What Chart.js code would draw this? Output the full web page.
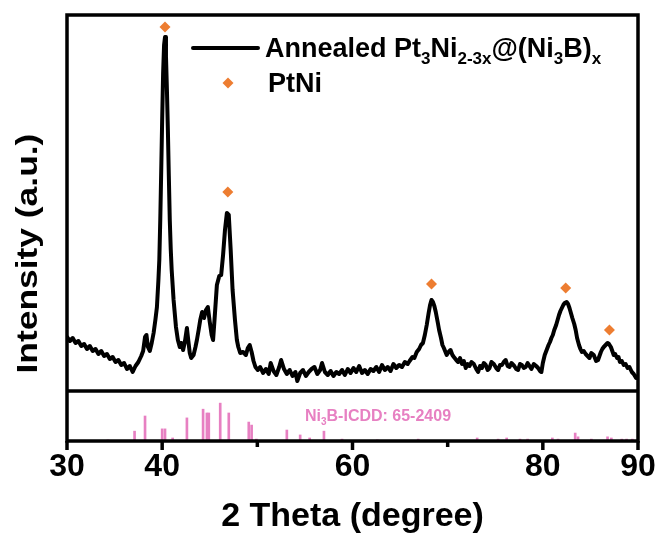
<!DOCTYPE html>
<html>
<head>
<meta charset="utf-8">
<title>XRD - Annealed Pt3Ni2-3x@(Ni3B)x</title>
<script src="https://cdn.jsdelivr.net/npm/chart.js@4/dist/chart.umd.min.js"></script>
<style>
  html, body { margin: 0; padding: 0; background: #fff; }
</style>
</head>
<body>
<canvas id="xrd" width="660" height="535"></canvas>
<script>
// measured pattern (2θ in degree, intensity in a.u.)
var twoTheta = [
  30.0, 30.3, 30.6, 30.9, 31.2, 31.5, 31.8, 32.1, 32.4, 32.7,
  33.0, 33.3, 33.6, 33.9, 34.2, 34.5, 34.8, 35.1, 35.4, 35.7,
  36.0, 36.3, 36.6, 36.9, 37.2, 37.5, 37.8, 38.0, 38.2, 38.35,
  38.5, 38.7, 38.9, 39.1, 39.3, 39.45, 39.6, 39.7, 39.8, 39.9,
  40.0, 40.1, 40.2, 40.3, 40.4, 40.5, 40.6, 40.7, 40.8, 40.9,
  41.0, 41.2, 41.45, 41.65, 41.85, 42.0, 42.2, 42.4, 42.6, 42.75,
  42.9, 43.05, 43.3, 43.5, 43.65, 43.85, 44.0, 44.2, 44.4, 44.6,
  44.8, 45.0, 45.2, 45.35, 45.5, 45.75, 46.0, 46.2, 46.4, 46.6,
  46.8, 47.0, 47.2, 47.4, 47.65, 47.85, 48.0, 48.2, 48.5, 48.8,
  49.0, 49.2, 49.4, 49.6, 49.8, 50.05, 50.3, 50.6, 50.9, 51.2,
  51.4, 51.7, 52.0, 52.3, 52.5, 52.8, 53.1, 53.4, 53.7, 54.0,
  54.2, 54.5, 54.8, 55.1, 55.4, 55.7, 56.0, 56.3, 56.6, 56.8,
  57.1, 57.4, 57.7, 58.0, 58.3, 58.6, 58.9, 59.2, 59.5, 59.8,
  60.1, 60.4, 60.7, 61.0, 61.3, 61.6, 61.9, 62.2, 62.5, 62.8,
  63.1, 63.4, 63.7, 64.0, 64.3, 64.6, 64.9, 65.2, 65.5, 65.8,
  66.0, 66.3, 66.5, 66.75, 67.0, 67.2, 67.4, 67.6, 67.8, 68.0,
  68.15, 68.3, 68.45, 68.6, 68.75, 68.95, 69.1, 69.3, 69.45, 69.6,
  69.9, 70.1, 70.3, 70.5, 70.65, 70.9, 71.1, 71.3, 71.5, 71.7,
  71.9, 72.1, 72.3, 72.5, 72.75, 73.0, 73.2, 73.4, 73.6, 73.8,
  74.0, 74.2, 74.4, 74.6, 74.85, 75.1, 75.3, 75.5, 75.7, 75.9,
  76.1, 76.3, 76.5, 76.7, 77.0, 77.2, 77.4, 77.6, 77.8, 78.0,
  78.2, 78.4, 78.6, 78.8, 79.05, 79.3, 79.5, 79.7, 79.85, 80.0,
  80.2, 80.4, 80.6, 80.75, 80.9, 81.05, 81.2, 81.4, 81.55, 81.7,
  81.85, 82.0, 82.15, 82.3, 82.5, 82.65, 82.8, 82.95, 83.1, 83.3,
  83.45, 83.6, 83.8, 83.95, 84.1, 84.3, 84.5, 84.7, 84.9, 85.1,
  85.35, 85.6, 85.8, 85.95, 86.1, 86.25, 86.4, 86.6, 86.8, 86.95,
  87.15, 87.3, 87.45, 87.6, 87.8, 87.95, 88.1, 88.3, 88.5, 88.7,
  88.9, 89.1, 89.35, 89.55, 89.8, 90.0
];
var intensity = [
  54, 50, 53, 48, 50, 45, 47, 42, 45, 40,
  42, 37, 40, 35, 37, 32, 34, 29, 31, 26,
  28, 22, 25, 19, 25, 29, 35, 40, 54, 56,
  44, 40, 48, 58, 72, 84, 110, 131, 171, 220,
  271, 318, 346, 354, 335, 301, 261, 215, 171, 142,
  121, 91, 64, 51, 44, 48, 41, 50, 63, 50,
  38, 33, 36, 44, 51, 62, 71, 79, 73, 81,
  84, 69, 56, 51, 71, 106, 115, 116, 136, 161,
  178, 176, 141, 101, 71, 51, 44, 38, 39, 36,
  43, 46, 39, 30, 24, 21, 24, 18, 22, 17,
  28, 20, 16, 24, 31, 22, 17, 21, 15, 19,
  10, 18, 21, 15, 19, 22, 24, 17, 21, 28,
  19, 16, 20, 15, 19, 17, 21, 16, 22, 18,
  23, 19, 25, 18, 21, 17, 22, 20, 24, 19,
  26, 21, 24, 20, 27, 23, 26, 24, 29, 27,
  30, 34, 33, 39, 42, 46, 48, 56, 66, 78,
  86, 91, 89, 85, 79, 69, 61, 53, 46, 43,
  36, 39, 41, 36, 34, 31, 29, 33, 27, 30,
  23, 27, 25, 29, 27, 22, 19, 25, 23, 28,
  26, 21, 23, 29, 27, 23, 21, 26, 26, 29,
  31, 25, 24, 28, 25, 22, 21, 27, 26, 23,
  24, 28, 25, 22, 27, 25, 23, 20, 19, 28,
  36, 41, 46, 49, 53, 56, 61, 66, 71, 76,
  80, 83, 86, 88, 89, 87, 83, 78, 73, 67,
  61, 53, 46, 42, 39, 40, 37, 35, 33, 38,
  36, 30, 31, 35, 39, 42, 44, 46, 48, 47,
  44, 40, 36, 37, 33, 34, 29, 30, 26, 27,
  23, 24, 19, 17, 13, 15
];

// PtNi reflections (diamond markers)
var ptniTheta = [40.3, 46.9, 68.3, 82.4, 87.0];
var ptniMark = [364, 199, 107, 103, 61];

// Ni3B reference, ICDD 65-2409 (relative intensity, %)
var refTheta = [34.3, 37.1, 38.2, 40.0, 40.3, 41.1, 42.6, 44.3, 44.7, 44.9,
  46.1, 47.0, 49.1, 49.4, 49.9, 53.1, 54.5, 55.5, 57.0, 58.9,
  62.6, 66.9, 73.1, 75.3, 76.2, 77.6, 78.4, 81.0, 81.6, 83.4,
  83.7, 85.1, 86.8, 87.2, 88.3, 88.8, 89.4];
var refInt = [3, 26, 66, 32, 32, 8, 61, 84, 74, 74,
  100, 74, 50, 42, 5, 29, 16, 8, 26, 5,
  3, 5, 8, 5, 8, 5, 5, 8, 5, 21,
  11, 5, 11, 8, 5, 5, 5];

var xTicks = [30, 40, 50, 60, 70, 80, 90];
var xLabelled = [30, 40, 60, 80, 90];

var legendMain = [['Annealed Pt', 0], ['3', 1], ['Ni', 0], ['2-3x', 1], ['@(Ni', 0], ['3', 1], ['B)', 0], ['x', 1]];
var legendPeak = [['PtNi', 0]];
var refLabel = [['Ni', 0], ['3', 1], ['B-ICDD: 65-2409', 0]];
var yTitle = 'Intensity (a.u.)';
var xTitle = '2 Theta (degree)';

var FONT = '"Liberation Sans", Arial, sans-serif';
var ORANGE = '#ed7d31';
var PINK = '#e780c2';

function pairs(xs, ys) {
  return xs.map(function (v, i) { return { x: v, y: ys[i] }; });
}

// text with subscripts, y is the baseline
function drawChem(ctx, parts, x, y, size, color) {
  ctx.fillStyle = color;
  ctx.textAlign = 'left';
  ctx.textBaseline = 'alphabetic';
  parts.forEach(function (p) {
    var fs = p[1] ? Math.round(size * 0.62) : size;
    ctx.font = 'bold ' + fs + 'px ' + FONT;
    ctx.fillText(p[0], x, p[1] ? y + size * 0.27 : y);
    x += ctx.measureText(p[0]).width;
  });
}

var framePlugin = {
  id: 'frame',
  afterDraw: function (chart) {
    var ctx = chart.ctx, a = chart.chartArea;
    var xs = chart.scales.x, ys = chart.scales.y;
    ctx.save();
    ctx.strokeStyle = '#000';
    ctx.lineWidth = 3.5;
    ctx.strokeRect(a.left, a.top, a.right - a.left, a.bottom - a.top);
    // divider between pattern and reference panel
    ctx.beginPath();
    ctx.moveTo(a.left, ys.bottom);
    ctx.lineTo(a.right, ys.bottom);
    ctx.stroke();
    // outward x ticks, short ones unlabeled
    xTicks.forEach(function (v) {
      var px = xs.getPixelForValue(v);
      var len = xLabelled.indexOf(v) >= 0 ? 9 : 6;
      ctx.beginPath();
      ctx.moveTo(px, a.bottom);
      ctx.lineTo(px, a.bottom + len);
      ctx.stroke();
    });

    // legend
    var lx = a.left + 126, ly = a.top + 33;
    ctx.lineWidth = 4;
    ctx.lineCap = 'round';
    ctx.beginPath();
    ctx.moveTo(lx, ly);
    ctx.lineTo(lx + 65, ly);
    ctx.stroke();
    drawChem(ctx, legendMain, a.left + 198, a.top + 42, 27, '#000');
    var dx = a.left + 161, dy = a.top + 68;
    ctx.fillStyle = ORANGE;
    ctx.beginPath();
    ctx.moveTo(dx, dy - 5.5);
    ctx.lineTo(dx + 5.5, dy);
    ctx.lineTo(dx, dy + 5.5);
    ctx.lineTo(dx - 5.5, dy);
    ctx.closePath();
    ctx.fill();
    drawChem(ctx, legendPeak, a.left + 201, a.top + 77, 27, '#000');

    // reference card label
    drawChem(ctx, refLabel, a.left + 238, ys.bottom + 30, 16, PINK);

    // y title
    ctx.save();
    ctx.translate(29, a.top + (a.bottom - a.top) * 0.56);
    ctx.rotate(-Math.PI / 2);
    ctx.scale(1.22, 1);
    ctx.font = 'bold 29px ' + FONT;
    ctx.fillStyle = '#000';
    ctx.textAlign = 'center';
    ctx.textBaseline = 'middle';
    ctx.fillText(yTitle, 0, 0);
    ctx.restore();
    ctx.restore();
  }
};

var hiddenY = {
  ticks: { display: false },
  grid: { display: false, drawTicks: false },
  border: { display: false }
};

new Chart(document.getElementById('xrd'), {
  type: 'line',
  data: {
    datasets: [
      {
        label: 'Annealed Pt3Ni2-3x@(Ni3B)x',
        data: pairs(twoTheta, intensity),
        borderColor: '#000',
        borderWidth: 4,
        borderJoinStyle: 'round',
        borderCapStyle: 'round',
        pointRadius: 0,
        tension: 0,
        yAxisID: 'y'
      },
      {
        label: 'PtNi',
        data: pairs(ptniTheta, ptniMark),
        showLine: false,
        pointStyle: 'rectRot',
        pointRadius: 5.5,
        pointBackgroundColor: ORANGE,
        pointBorderWidth: 0,
        yAxisID: 'y'
      },
      {
        type: 'bar',
        label: 'Ni3B-ICDD: 65-2409',
        data: pairs(refTheta, refInt),
        backgroundColor: PINK,
        barThickness: 2,
        yAxisID: 'y2'
      }
    ]
  },
  options: {
    responsive: false,
    animation: false,
    layout: { padding: { left: 67, right: 22, top: 15, bottom: 1 } },
    plugins: { legend: { display: false }, tooltip: { enabled: false } },
    scales: {
      x: {
        type: 'linear',
        min: 30,
        max: 90,
        offset: false,
        grid: { display: false, drawTicks: false, offset: false },
        border: { display: false },
        ticks: {
          stepSize: 10,
          autoSkip: false,
          maxRotation: 0,
          padding: 10,
          color: '#000',
          font: { family: FONT, size: 32, weight: 'bold', lineHeight: 1 },
          callback: function (v) { return xLabelled.indexOf(v) >= 0 ? String(v) : ''; }
        },
        title: {
          display: true,
          text: xTitle,
          color: '#000',
          padding: { top: 17, bottom: 0 },
          font: { family: FONT, size: 34, weight: 'bold', lineHeight: 1 }
        },
        afterFit: function (scale) { scale.paddingLeft = 0; scale.paddingRight = 0; scale.height = 93; }
      },
      // listed bottom panel first: the layout stacks them in reverse
      y2: Object.assign({ min: 0, max: 132, stack: 'xrd', stackWeight: 50 }, hiddenY),
      y: Object.assign({ min: 0, max: 376, stack: 'xrd', stackWeight: 376 }, hiddenY)
    }
  },
  plugins: [framePlugin]
});
</script>
</body>
</html>
